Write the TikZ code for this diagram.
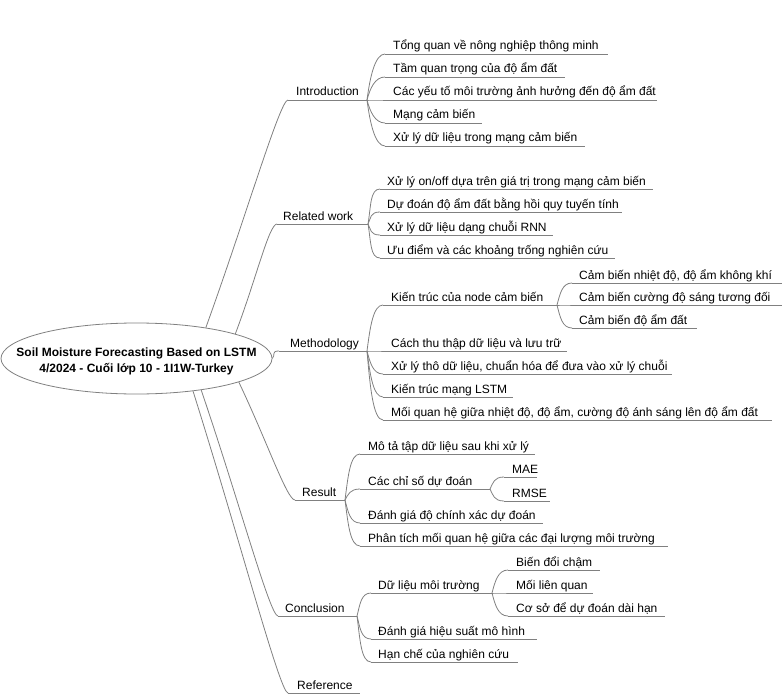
\documentclass[tikz,border=0pt]{standalone}
\usepackage{fontspec}
\setmainfont{Liberation Sans}
\usetikzlibrary{calc,shapes.geometric}
\definecolor{edgegray}{HTML}{808080}
\tikzset{
  topic/.style={anchor=base west, inner sep=0pt, font=\fontsize{12}{14}\selectfont, text=black},
  uline/.style={draw=edgegray, line width=0.8pt},
  conn/.style={draw=edgegray, line width=0.8pt},
  branch/.style={to path={.. controls ($(\tikztostart)!0.5!(\tikztostart|-\tikztotarget)+(3,0)$) and ($(\tikztotarget)+(-10,0)$) .. (\tikztotarget)}},
  mainbranch/.style={to path={.. controls ($(\tikztostart)!0.5!(\tikztotarget)$) and ($(\tikztotarget)+(-8,0)$) .. (\tikztotarget)}},
  rootshape/.style={ellipse, draw=edgegray, line width=0.8pt, fill=white, minimum width=271pt, minimum height=71pt, inner sep=0pt},
  roottxt/.style={align=center, font=\fontsize{12}{16}\selectfont\bfseries, text=black, inner sep=0pt}
}
% name, underline left x, underline right x, underline y, text x, text
\newcommand\mmtopic[6]{%
  \coordinate (#1-l) at (#2,#4);
  \coordinate (#1-r) at (#3,#4);
  \node[topic] (#1) at (#5,#4-4) {#6};
  \draw[uline] (#1-l) -- (#1-r);
}
\begin{document}
\begin{tikzpicture}[x=1pt,y=-1pt]
\useasboundingbox (0,0) rectangle (783,695);

% main topics
\mmtopic{intro}{288}{367}{100}{296}{Introduction}
\mmtopic{rel}{277}{368}{224}{283}{Related work}
\mmtopic{meth}{279}{367}{351}{290}{Methodology}
\mmtopic{res}{295}{345}{500}{302}{Result}
\mmtopic{conc}{278}{357}{616}{285}{Conclusion}
\mmtopic{ref}{288}{360}{693}{297}{Reference}

% Introduction children
\mmtopic{i1}{385}{608}{54}{393}{Tổng quan về nông nghiệp thông minh}
\mmtopic{i2}{385}{565}{77}{393}{Tầm quan trọng của độ ẩm đất}
\mmtopic{i3}{385}{657}{100}{393}{Các yếu tố môi trường ảnh hưởng đến độ ẩm đất}
\mmtopic{i4}{385}{482}{123}{393}{Mạng cảm biến}
\mmtopic{i5}{385}{585}{146}{393}{Xử lý dữ liệu trong mạng cảm biến}

% Related work children
\mmtopic{r1}{380}{653}{189}{387}{Xử lý on/off dựa trên giá trị trong mạng cảm biến}
\mmtopic{r2}{380}{622}{212}{387}{Dự đoán độ ẩm đất bằng hồi quy tuyến tính}
\mmtopic{r3}{380}{553}{235}{387}{Xử lý dữ liệu dạng chuỗi RNN}
\mmtopic{r4}{380}{615}{258}{387}{Ưu điểm và các khoảng trống nghiên cứu}

% Methodology children
\mmtopic{m1}{383}{557}{305}{391}{Kiến trúc của node cảm biến}
\mmtopic{m11}{572}{782}{283}{579}{Cảm biến nhiệt độ, độ ẩm không khí}
\mmtopic{m12}{572}{782}{305}{579}{Cảm biến cường độ sáng tương đối}
\mmtopic{m13}{572}{697}{328}{579}{Cảm biến độ ẩm đất}
\mmtopic{m2}{383}{567}{351}{391}{Cách thu thập dữ liệu và lưu trữ}
\mmtopic{m3}{383}{672}{374}{391}{Xử lý thô dữ liệu, chuẩn hóa để đưa vào xử lý chuỗi}
\mmtopic{m4}{383}{513}{397}{391}{Kiến trúc mạng LSTM}
\mmtopic{m5}{383}{772}{420}{391}{Mối quan hệ giữa nhiệt độ, độ ẩm, cường độ ánh sáng lên độ ẩm đất}

% Result children
\mmtopic{s1}{360}{535}{454}{368}{Mô tả tập dữ liệu sau khi xử lý}
\mmtopic{s2}{360}{490}{489}{368}{Các chỉ số dự đoán}
\mmtopic{s21}{504}{537}{477}{512}{MAE}
\mmtopic{s22}{504}{550}{501}{512}{RMSE}
\mmtopic{s3}{360}{543}{523}{368}{Đánh giá độ chính xác dự đoán}
\mmtopic{s4}{360}{668}{546}{368}{Phân tích mối quan hệ giữa các đại lượng môi trường}

% Conclusion children
\mmtopic{c1}{371}{492}{593}{378}{Dữ liệu môi trường}
\mmtopic{c11}{508}{600}{570}{516}{Biến đổi chậm}
\mmtopic{c12}{508}{593}{593}{516}{Mối liên quan}
\mmtopic{c13}{508}{665}{616}{516}{Cơ sở để dự đoán dài hạn}
\mmtopic{c2}{371}{537}{639}{378}{Đánh giá hiệu suất mô hình}
\mmtopic{c3}{371}{518}{662}{378}{Hạn chế của nghiên cứu}

% child connectors
\foreach \c in {i1,i2,i3,i4,i5} \draw[conn] (intro-r) to[branch] (\c-l);
\foreach \c in {r1,r2,r3,r4} \draw[conn] (rel-r) to[branch] (\c-l);
\foreach \c in {m1,m2,m3,m4,m5} \draw[conn] (meth-r) to[branch] (\c-l);
\foreach \c in {m11,m12,m13} \draw[conn] (m1-r) to[branch] (\c-l);
\foreach \c in {s1,s2,s3,s4} \draw[conn] (res-r) to[branch] (\c-l);
\foreach \c in {s21,s22} \draw[conn] (s2-r) to[branch] (\c-l);
\foreach \c in {c1,c2,c3} \draw[conn] (conc-r) to[branch] (\c-l);
\foreach \c in {c11,c12,c13} \draw[conn] (c1-r) to[branch] (\c-l);

% root
\node[rootshape] (root) at (136.5,358.5) {};
\node[roottxt] (roottext) at (136.5,361) {Soil Moisture Forecasting Based on LSTM\\4/2024 - Cuối lớp 10 - 1I1W-Turkey};

% main branches
\draw[conn] (root.24) to[mainbranch] (intro-l);
\draw[conn] (root.14.5) to[mainbranch] (rel-l);
\draw[conn] (root.0) to[mainbranch] (meth-l);
\draw[conn] (root.-13) to[mainbranch] (res-l);
\draw[conn] (root.-26) to[mainbranch] (conc-l);
\draw[conn] (root.-30) to[mainbranch] (ref-l);
\end{tikzpicture}
\end{document}
